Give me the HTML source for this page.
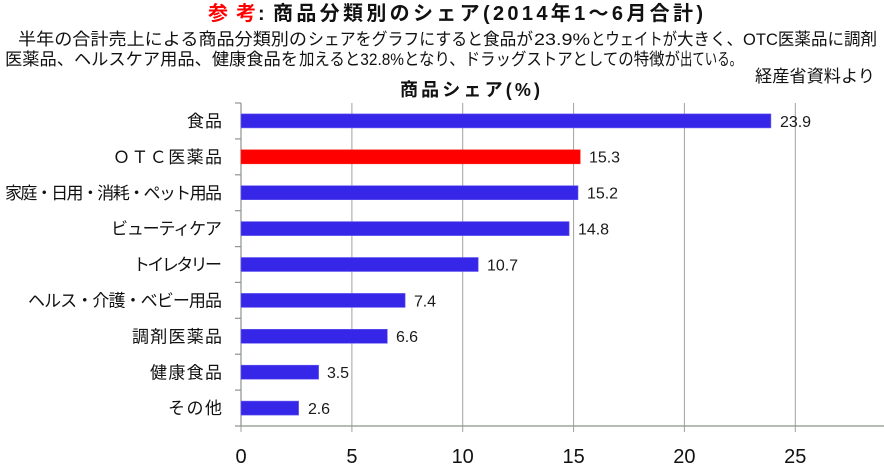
<!DOCTYPE html>
<html><head><meta charset="utf-8"><style>
html,body{margin:0;padding:0;background:#fff;}
svg{display:block;}
text{font-family:"Liberation Sans","Noto Sans CJK JP",sans-serif;}
</style></head><body>
<svg width="884" height="466" viewBox="0 0 884 466" xmlns="http://www.w3.org/2000/svg">
<rect width="884" height="466" fill="#fff"/>
<!-- title -->
<text x="208" y="20" font-size="20" font-weight="bold" fill="#ff0000" textLength="48">参考</text>
<text x="258" y="20" font-size="20" font-weight="bold" fill="#111">:</text>
<text x="273" y="20" font-size="20" font-weight="bold" fill="#111" textLength="430">商品分類別のシェア(2014年1～6月合計)</text>
<!-- subtitle line 1 -->
<g font-size="17" fill="#111">
<text x="18" y="45" textLength="289" lengthAdjust="spacingAndGlyphs">半年の合計売上による商品分類別の</text>
<text x="308" y="45" textLength="175" lengthAdjust="spacingAndGlyphs">シェアをグラフにすると</text>
<text x="483" y="45" textLength="50" lengthAdjust="spacingAndGlyphs">食品が</text>
<text x="534" y="45" textLength="56" lengthAdjust="spacingAndGlyphs">23.9%</text>
<text x="591" y="45" textLength="86" lengthAdjust="spacingAndGlyphs">とウェイトが</text>
<text x="677" y="45" textLength="200" lengthAdjust="spacingAndGlyphs">大きく、OTC医薬品に調剤</text>
<!-- subtitle line 2 -->
<text x="5" y="65" textLength="293" lengthAdjust="spacingAndGlyphs">医薬品、ヘルスケア用品、健康食品を</text>
<text x="299" y="65" textLength="381" lengthAdjust="spacingAndGlyphs">加えると32.8%となり、ドラッグストアとしての特徴が</text>
<text x="680" y="65" textLength="62" lengthAdjust="spacingAndGlyphs">出ている。</text>
<text x="755" y="82" textLength="120" lengthAdjust="spacingAndGlyphs">経産省資料より</text>
</g>
<text x="400" y="96" font-size="18" font-weight="bold" fill="#111" textLength="140">商品シェア(%)</text>

<!-- gridlines -->
<g stroke="#a0a0a0" stroke-width="1">
<line x1="351.9" y1="103" x2="351.9" y2="432"/>
<line x1="462.7" y1="103" x2="462.7" y2="432"/>
<line x1="573.6" y1="103" x2="573.6" y2="432"/>
<line x1="684.4" y1="103" x2="684.4" y2="432"/>
<line x1="795.3" y1="103" x2="795.3" y2="432"/>
<line x1="241" y1="426" x2="241" y2="432"/>
</g>
<!-- axes -->
<g stroke="#8c948c" stroke-width="1.2">
<line x1="241" y1="103" x2="241" y2="426"/>
<line x1="235" y1="426" x2="884" y2="426"/>
<line x1="235" y1="103" x2="241" y2="103"/>
<line x1="235" y1="138.9" x2="241" y2="138.9"/>
<line x1="235" y1="174.8" x2="241" y2="174.8"/>
<line x1="235" y1="210.7" x2="241" y2="210.7"/>
<line x1="235" y1="246.6" x2="241" y2="246.6"/>
<line x1="235" y1="282.4" x2="241" y2="282.4"/>
<line x1="235" y1="318.3" x2="241" y2="318.3"/>
<line x1="235" y1="354.2" x2="241" y2="354.2"/>
<line x1="235" y1="390.1" x2="241" y2="390.1"/>
</g>

<!-- bars -->
<g stroke="#6a5cf0" stroke-width="0.6">
<rect x="241" y="113.9" width="529.9" height="14" fill="#3526e8"/>
<rect x="241" y="149.8" width="339.2" height="14" fill="#ff0000" stroke="#ff2020"/>
<rect x="241" y="185.7" width="337.0" height="14" fill="#3526e8"/>
<rect x="241" y="221.6" width="328.1" height="14" fill="#3526e8"/>
<rect x="241" y="257.5" width="237.2" height="14" fill="#3526e8"/>
<rect x="241" y="293.4" width="164.1" height="14" fill="#3526e8"/>
<rect x="241" y="329.3" width="146.3" height="14" fill="#3526e8"/>
<rect x="241" y="365.2" width="77.6" height="14" fill="#3526e8"/>
<rect x="241" y="401.1" width="57.6" height="14" fill="#3526e8"/>
</g>

<!-- value labels -->
<g font-size="16" fill="#1a1a1a">
<text x="780" y="126.8" textLength="31">23.9</text>
<text x="589" y="162.7" textLength="31">15.3</text>
<text x="587" y="198.6" textLength="31">15.2</text>
<text x="578" y="234.5" textLength="31">14.8</text>
<text x="487" y="270.4" textLength="31">10.7</text>
<text x="414" y="306.3" textLength="22">7.4</text>
<text x="396" y="342.2" textLength="22">6.6</text>
<text x="327" y="378.1" textLength="22">3.5</text>
<text x="308" y="414" textLength="22">2.6</text>
</g>

<!-- category labels -->
<g font-size="17" fill="#111" text-anchor="end">
<text x="222" y="127" textLength="35">食品</text>
<text x="222" y="162.9" textLength="109">ＯＴＣ医薬品</text>
<text x="222" y="198.8" textLength="217">家庭・日用・消耗・ペット用品</text>
<text x="222" y="234.7" textLength="111">ビューティケア</text>
<text x="222" y="270.6" textLength="89">トイレタリー</text>
<text x="222" y="306.5" textLength="194">ヘルス・介護・ベビー用品</text>
<text x="222" y="342.4" textLength="90">調剤医薬品</text>
<text x="222" y="378.3" textLength="72">健康食品</text>
<text x="222" y="414.2" textLength="54">その他</text>
</g>

<!-- x tick labels -->
<g font-size="20" fill="#111" text-anchor="middle">
<text x="241" y="463">0</text>
<text x="351.9" y="463">5</text>
<text x="462.7" y="463">10</text>
<text x="573.6" y="463">15</text>
<text x="684.4" y="463">20</text>
<text x="795.3" y="463">25</text>
</g>
</svg>
</body></html>
